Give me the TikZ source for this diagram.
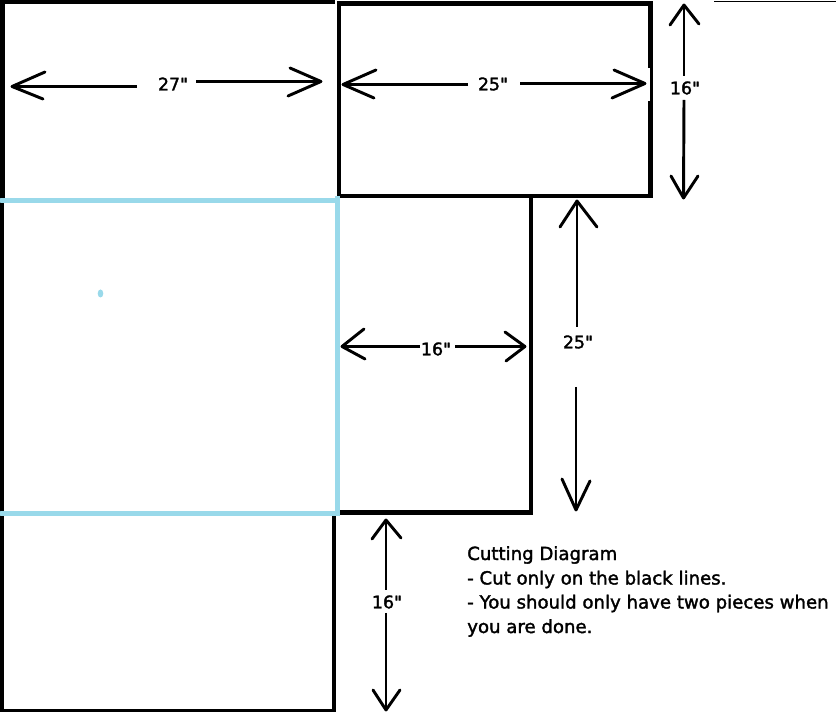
\documentclass[tikz,border=0pt]{standalone}
\usepackage{fontspec}
\newfontfamily\dgfont{DejaVu Sans}[FakeBold=1.8]
\definecolor{cutblue}{HTML}{99D9EA}
\tikzset{
  x=0.75pt,y=-0.75pt,
  heavy/.style={line width=3.7pt,black,line cap=butt},
  folded/.style={line width=3.6pt,cutblue},
  dim/.style={line width=2.2pt,black},
  lbl/.style={inner sep=0pt,font=\dgfont\fontsize{13pt}{15pt}\selectfont},
  note/.style={inner sep=0pt,anchor=west,font=\dgfont\fontsize{13.6pt}{15pt}\selectfont},
}
\newcommand{\dimarrow}[5]{% tip, shaft end, barb1, barb2, (unused)
  \draw[dim] #2 -- #1;
  \draw[dim,line cap=round,line join=round] #3 -- #1 -- #4;
}
\begin{document}
\begin{tikzpicture}
\useasboundingbox (0,0) rectangle (836,712);
% outer sheet outline
\draw[line width=3.4pt] (0,2.2) -- (335,2.2);
\draw[line width=3.7pt] (2.5,0) -- (2.5,200);
\draw[line width=3pt] (2,200) -- (2,712);
\draw[line width=2.6pt] (0,711) -- (336,711);
\draw[line width=3.2pt] (334,514) -- (334,712);
% pieces with black cut lines
\draw[heavy,line join=miter] (339,3.2) rectangle (650.5,196);
\draw[heavy] (531,196) -- (531,512.5) -- (340,512.5);
\fill[white] (647.5,68) rectangle (649.5,101);
% blue fold lines
\draw[folded,line cap=round] (1,200.3) -- (337.5,200.3);
\draw[folded] (337.5,196) -- (337.5,516);
\draw[folded,line cap=round] (1,513.5) -- (337.5,513.5);
\fill[cutblue] (100.5,293.5) ellipse (2.8 and 4);
% thin line top right
\draw[line width=1.2pt] (714,1.5) -- (836,1.5);
% labels
\node[lbl] (w27) at (173,84) {27"};
\node[lbl] (w25) at (493,84) {25"};
\node[lbl] (h16) at (685,88) {16"};
\node[lbl] (h25) at (578,342) {25"};
\node[lbl] (w16) at (436,349) {16"};
\node[lbl] (b16) at (387,602) {16"};
% arrows
\dimarrow{(12,86.5)}{(137,86.5)}{(45,72)}{(43,99)}{}
\dimarrow{(321,81.5)}{(196,81.5)}{(290,68)}{(288,96)}{}
\dimarrow{(343,84.5)}{(468,84.5)}{(376,70)}{(374,98)}{}
\dimarrow{(645,83.5)}{(520,83.5)}{(614,70)}{(612,98)}{}
\dimarrow{(684,5)}{(684,76)}{(670,25)}{(699,24)}{}
\dimarrow{(683.5,198)}{(684,100)}{(671,176)}{(698,176)}{}
\dimarrow{(577,201)}{(577,327)}{(560,227)}{(597,227)}{}
\dimarrow{(576,510)}{(576,387)}{(562,479)}{(590,481)}{}
\dimarrow{(342,346.5)}{(420,346.5)}{(364,329)}{(365,359)}{}
\dimarrow{(525,346.5)}{(455,346.5)}{(505,332)}{(506,361)}{}
\dimarrow{(386,520)}{(386,590)}{(372,539)}{(401,538)}{}
\dimarrow{(386,710)}{(386,613)}{(373,690)}{(400,690)}{}
% note
\node[note] (n1) at (467,555) {Cutting Diagram};
\node[note] (n2) at (467,579.5) {- Cut only on the black lines.};
\node[note] (n3) at (467,603.5) {- You should only have two pieces when};
\node[note] (n4) at (467,628) {you are done.};
\end{tikzpicture}
\end{document}
